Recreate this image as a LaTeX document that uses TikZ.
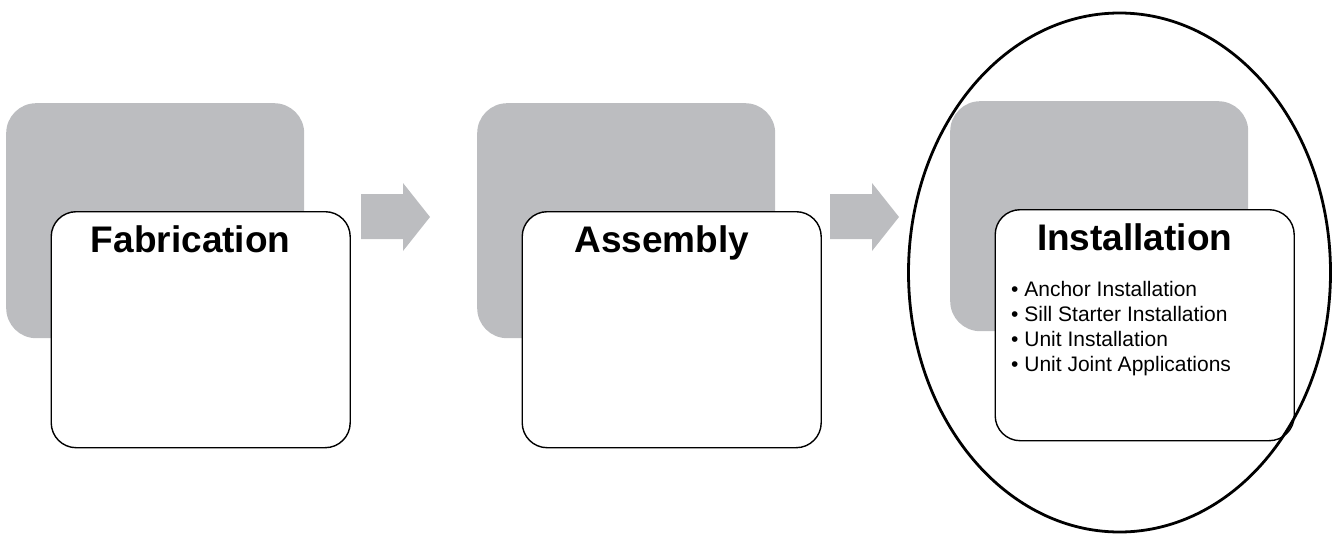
\documentclass[tikz,border=0pt]{standalone}
\usepackage{fontspec}
\setmainfont{Liberation Sans}
\usetikzlibrary{shapes.geometric}
\definecolor{stepgray}{RGB}{188, 189, 192}

\begin{document}
\begin{tikzpicture}[x=1pt, y=-1pt,
    backbox/.style={fill=stepgray, rounded corners=30pt, minimum width=298pt, inner sep=0pt, anchor=north west},
    frontbox/.style={draw, fill=white, line width=1.4pt, rounded corners=25pt, minimum width=299pt, inner sep=0pt, anchor=north west},
    steptitle/.style={font=\bfseries\fontsize{37}{40}\selectfont, anchor=base, inner sep=0pt}]
    \useasboundingbox (0,0) rectangle (1333,535);
    % the three stages
    \foreach \n/\x/\y/\h/\t in {fab/6/103/235/Fabrication, asm/477/103/235/Assembly, ins/950/101/230/Installation}{
      \node[backbox, minimum height=\h pt] (\n back) at (\x,\y) {};
      \node[frontbox, minimum height=\h pt+1pt] (\n) at (\x+44.5,\y+108) {};
      \node[steptitle] (\n title) at ([xshift=-10pt, yshift=-41pt]\n.north) {\t};
    }
    % arrows between stages
    \foreach \x in {361, 830}{
      \fill[stepgray] (\x,194) -- (\x+42,194) -- (\x+42,183) -- (\x+69,217) -- (\x+42,251) -- (\x+42,239) -- (\x,239) -- cycle;
    }
    % items of the last stage
    \node[anchor=north west, align=left, inner sep=0pt, font=\fontsize{21}{25}\selectfont] (ins items) at (1011,281)
      {\textbullet{} Anchor Installation\\ \textbullet{} Sill Starter Installation\\ \textbullet{} Unit Installation\\ \textbullet{} Unit Joint Applications};
    % circle round the last stage
    \node[ellipse, draw, line width=2.8pt, minimum width=422pt, minimum height=519pt, inner sep=0pt] (focus) at (1119.5,272.5) {};
  \end{tikzpicture}
\end{document}
